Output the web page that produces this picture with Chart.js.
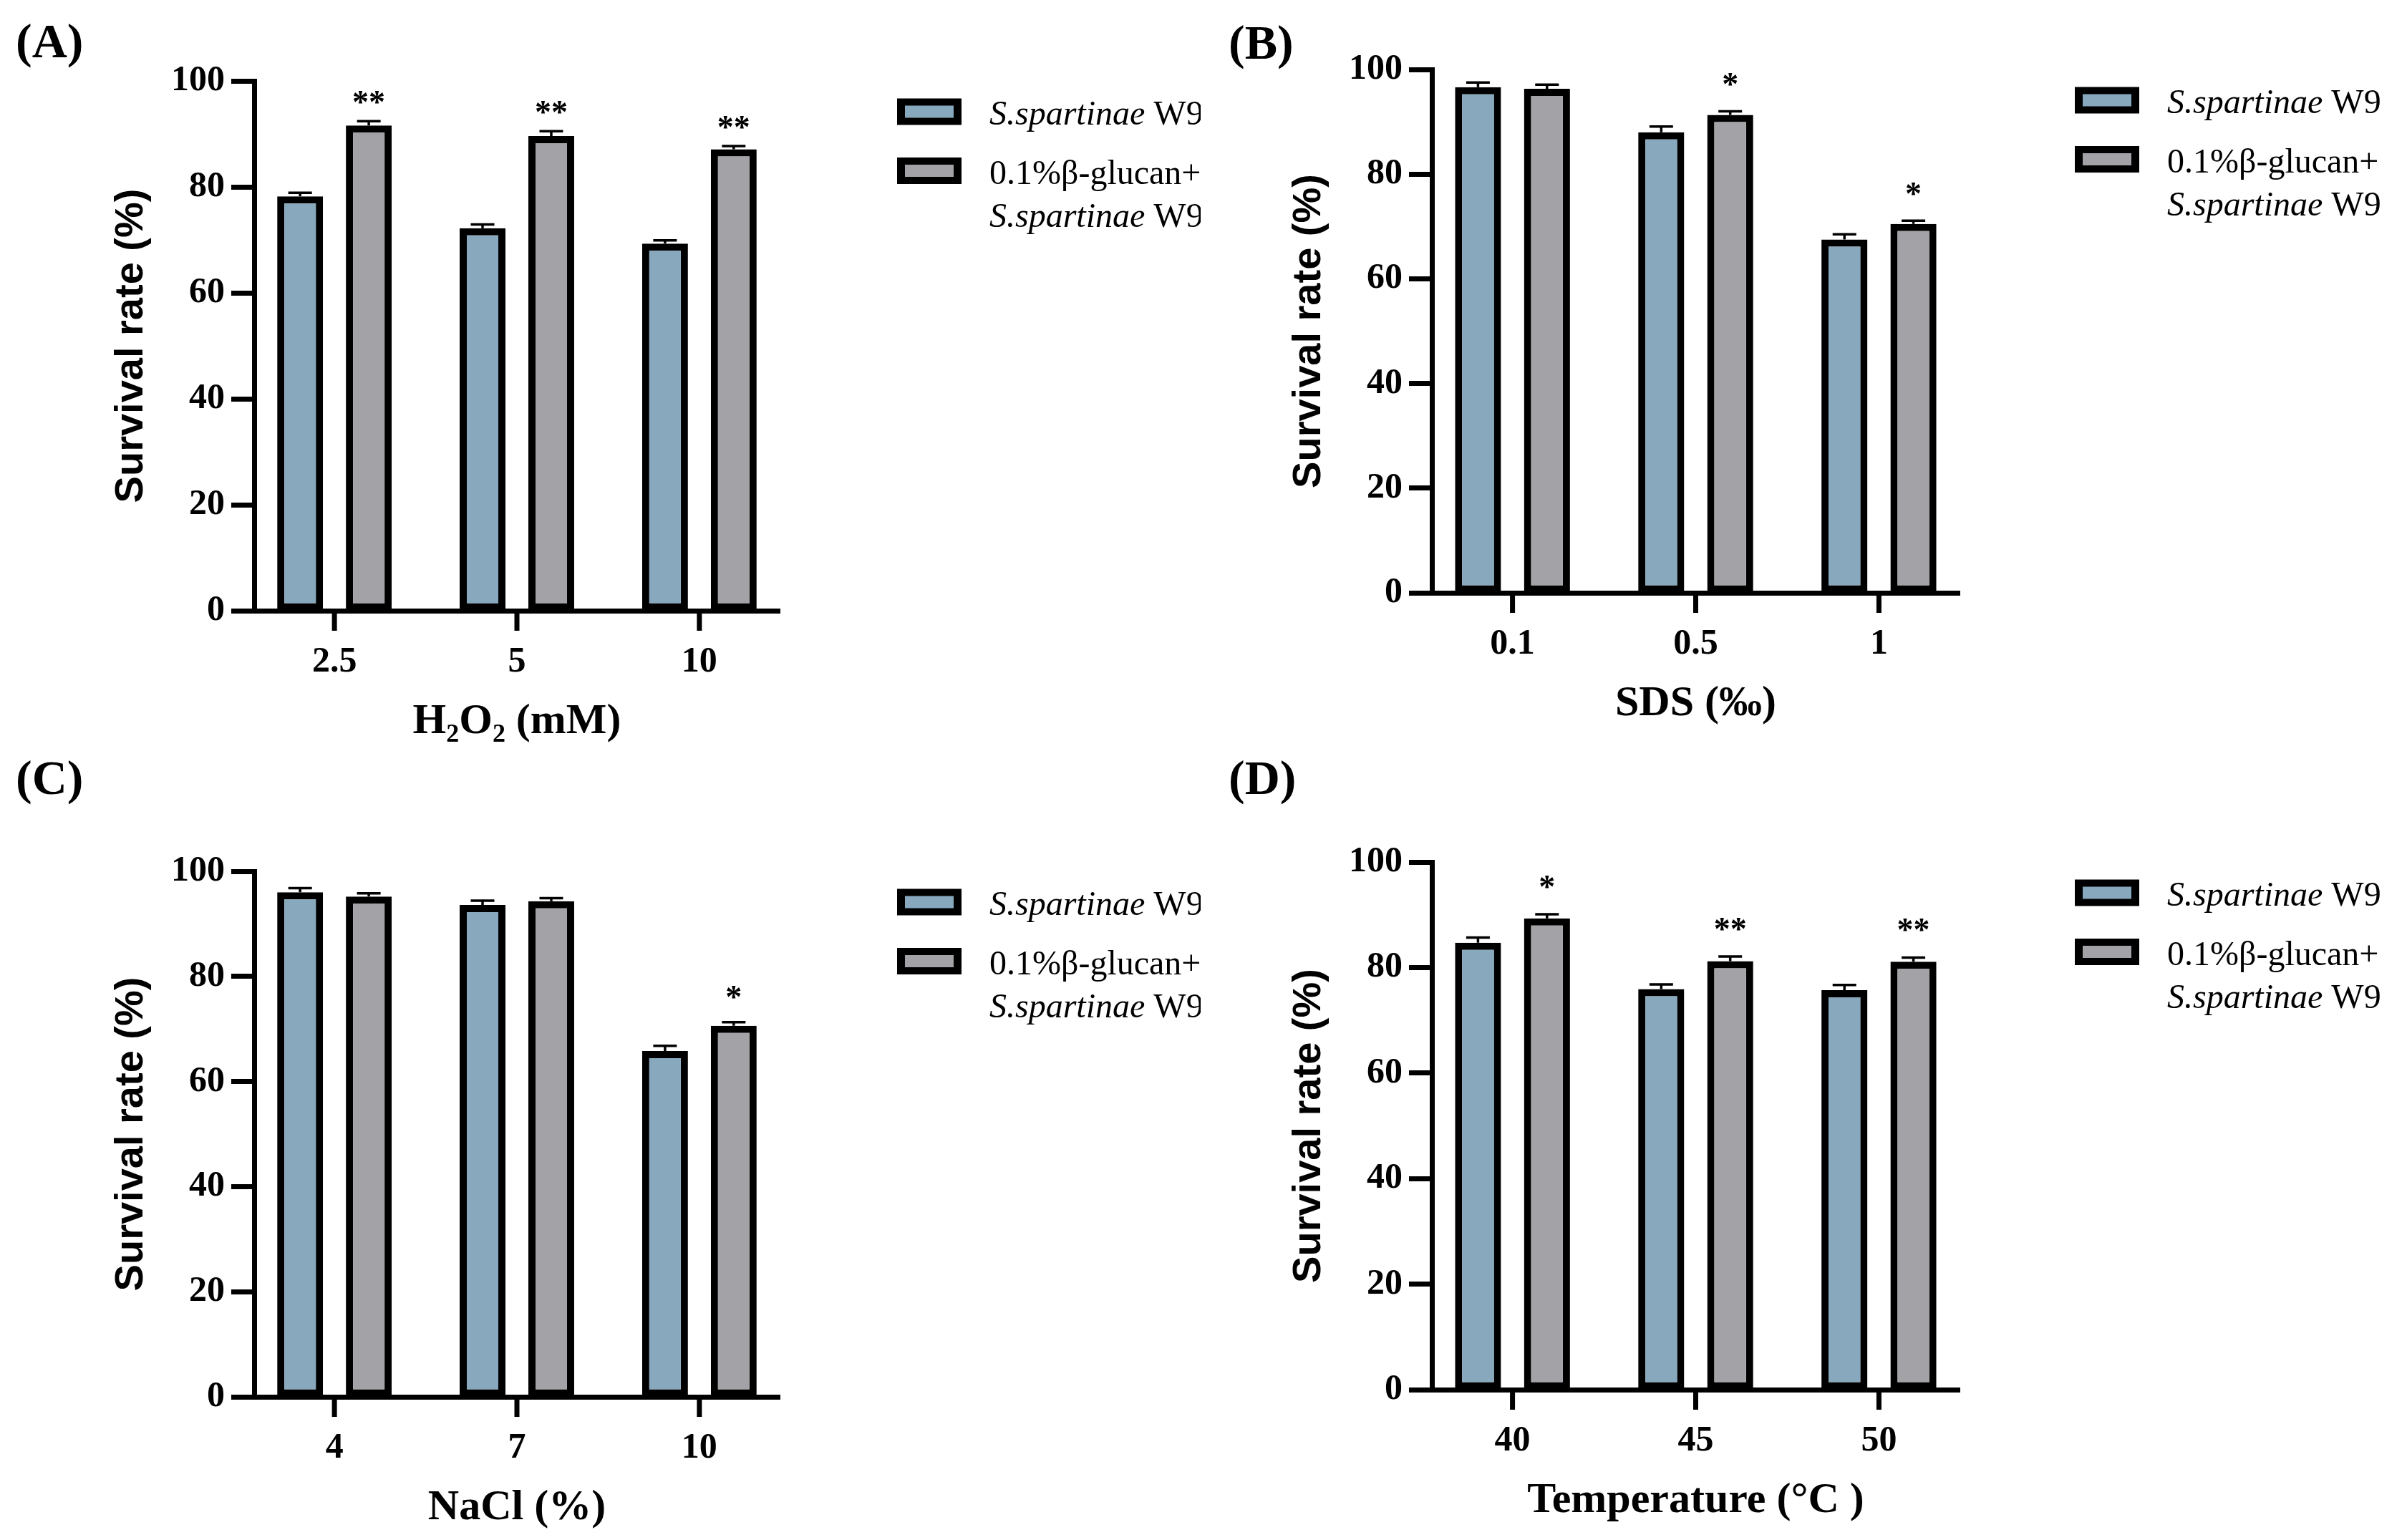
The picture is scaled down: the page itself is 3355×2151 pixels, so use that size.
<!DOCTYPE html>
<html>
<head>
<meta charset="utf-8">
<script src="https://cdn.jsdelivr.net/npm/chart.js@4.4.1/dist/chart.umd.min.js"></script>
<style>
  html, body { margin: 0; padding: 0; background: #fff; }
  body { width: 3355px; height: 2151px; position: relative; overflow: hidden; }
  canvas { position: absolute; }
</style>
</head>
<body>
<canvas id="chartA"></canvas>
<canvas id="chartB"></canvas>
<canvas id="chartC"></canvas>
<canvas id="chartD"></canvas>
<script>
// series names (S.spartinae is set in italics when drawn)
const seriesNames = ['S.spartinae W9', '0.1%β-glucan+\nS.spartinae W9'];

// (A) H2O2
const h2o2Labels = ['2.5', '5', '10'];
const h2o2Control = [78.2, 72.2, 69.3];
const h2o2Glucan = [91.6, 89.6, 87.1];
const h2o2ControlErr = [0.7, 0.7, 0.6];
const h2o2GlucanErr = [0.8, 0.9, 0.6];
const h2o2Stars = ['**', '**', '**'];

// (B) SDS
const sdsLabels = ['0.1', '0.5', '1'];
const sdsControl = [96.6, 88.0, 67.5];
const sdsGlucan = [96.3, 91.3, 70.5];
const sdsControlErr = [0.9, 1.1, 1.0];
const sdsGlucanErr = [0.8, 0.7, 0.6];
const sdsStars = ['', '*', '*'];

// (C) NaCl
const naclLabels = ['4', '7', '10'];
const naclControl = [96.0, 93.6, 65.8];
const naclGlucan = [95.2, 94.3, 70.6];
const naclControlErr = [0.8, 0.8, 1.0];
const naclGlucanErr = [0.6, 0.6, 0.7];
const naclStars = ['', '', '*'];

// (D) temperature
const tempLabels = ['40', '45', '50'];
const tempControl = [84.7, 75.9, 75.7];
const tempGlucan = [89.3, 81.2, 81.1];
const tempControlErr = [1.0, 0.9, 1.0];
const tempGlucanErr = [0.8, 0.9, 0.8];
const tempStars = ['*', '**', '**'];

const yTicks = [0, 20, 40, 60, 80, 100];

const BLUE = '#87a8bd';
const GRAY = '#a3a2a7';
const SERIF = '"Liberation Serif", "Times New Roman", serif';
const SANS = '"Liberation Sans", Arial, sans-serif';
const Y_W = 205;   // width of y scale box
const X_H = 191;   // height of x scale box
const X_TICK = 28; // x tick mark length

const panels = [
  { id: 'chartA', box: [0, 0, 1677, 1075], plot: [355, 113, 1089, 853], letter: '(A)', letterAt: [22, 62],
    xTitle: 'H₂O₂ (mM)', cats: h2o2Labels, ctrl: h2o2Control, glu: h2o2Glucan,
    ctrlErr: h2o2ControlErr, gluErr: h2o2GlucanErr, stars: h2o2Stars, starLift: 32 },
  { id: 'chartB', box: [1677, 0, 1678, 1075], plot: [2000, 97, 2737, 828], letter: '(B)', letterAt: [1716, 64],
    xTitle: 'SDS (‰)', cats: sdsLabels, ctrl: sdsControl, glu: sdsGlucan,
    ctrlErr: sdsControlErr, gluErr: sdsGlucanErr, stars: sdsStars, starLift: 43 },
  { id: 'chartC', box: [0, 1030, 1677, 1121], plot: [355, 1217, 1089, 1951], letter: '(C)', letterAt: [22, 1091],
    xTitle: 'NaCl (%)', cats: naclLabels, ctrl: naclControl, glu: naclGlucan,
    ctrlErr: naclControlErr, gluErr: naclGlucanErr, stars: naclStars, starLift: 41 },
  { id: 'chartD', box: [1677, 1030, 1678, 1121], plot: [2000, 1204, 2737, 1941], letter: '(D)', letterAt: [1716, 1091],
    xTitle: 'Temperature (°C )', cats: tempLabels, ctrl: tempControl, glu: tempGlucan,
    ctrlErr: tempControlErr, gluErr: tempGlucanErr, stars: tempStars, starLift: 44 }
];

// draws "S.spartinae" in italics, rest upright
function richText(ctx, text, x, y) {
  const parts = text.split(/(S\.spartinae)/).filter(s => s.length);
  parts.forEach(part => {
    ctx.font = (part === 'S.spartinae' ? 'italic ' : '') + '48px ' + SERIF;
    ctx.fillText(part, x, y);
    x += ctx.measureText(part).width;
  });
}

function makeExtras(p) {
  return {
    id: 'extras',
    afterDatasetsDraw(chart) {
      const ctx = chart.ctx;
      const y = chart.scales.y;
      ctx.save();
      ctx.strokeStyle = '#000';
      ctx.fillStyle = '#000';
      ctx.lineWidth = 3.5;
      [[p.ctrl, p.ctrlErr], [p.glu, p.gluErr]].forEach(([vals, errs], di) => {
        chart.getDatasetMeta(di).data.forEach((bar, i) => {
          const y0 = y.getPixelForValue(vals[i]);
          const y1 = y.getPixelForValue(vals[i] + errs[i]);
          ctx.beginPath();
          ctx.moveTo(bar.x, y0);
          ctx.lineTo(bar.x, y1);
          ctx.moveTo(bar.x - 16.5, y1);
          ctx.lineTo(bar.x + 16.5, y1);
          ctx.stroke();
          if (di === 1 && p.stars[i]) {
            ctx.font = 'bold 46px ' + SERIF;
            ctx.textAlign = 'center';
            ctx.textBaseline = 'alphabetic';
            ctx.fillText(p.stars[i], bar.x, y1 - p.starLift + 21);
          }
        });
      });
      ctx.restore();
    },
    afterDraw(chart) {
      const ctx = chart.ctx;
      const ox = p.box[0], oy = p.box[1];
      const xs = chart.scales.x;
      ctx.save();
      // x tick marks under each category label
      ctx.strokeStyle = '#000';
      ctx.lineWidth = 7;
      ctx.beginPath();
      xs.ticks.forEach(t => {
        const px = xs.getPixelForValue(t.value);
        ctx.moveTo(px, chart.chartArea.bottom);
        ctx.lineTo(px, chart.chartArea.bottom + X_TICK);
      });
      ctx.stroke();

      // panel letter
      ctx.fillStyle = '#000';
      ctx.font = 'bold 68px ' + SERIF;
      ctx.textAlign = 'left';
      ctx.textBaseline = 'middle';
      ctx.fillText(p.letter, p.letterAt[0] - ox, p.letterAt[1] - oy);

      // legend
      const bx = p.plot[0] + 898 - ox;
      const rows = [p.plot[1] + 43 - oy, p.plot[1] + 125.5 - oy];
      const colors = [BLUE, GRAY];
      ctx.textBaseline = 'alphabetic';
      rows.forEach((cy, k) => {
        ctx.fillStyle = '#000';
        ctx.fillRect(bx, cy - 18.5, 90, 37);
        ctx.fillStyle = colors[k];
        ctx.fillRect(bx + 11, cy - 8.5, 68, 17);
        ctx.fillStyle = '#000';
        seriesNames[k].split('\n').forEach((line, j) => {
          richText(ctx, line, bx + 129, cy + 18 + j * 60);
        });
      });
      ctx.restore();
    }
  };
}

panels.forEach(p => {
  const cv = document.getElementById(p.id);
  const [bx, by, bw, bh] = p.box;
  cv.width = bw; cv.height = bh;
  cv.style.left = bx + 'px'; cv.style.top = by + 'px';
  cv.style.width = bw + 'px'; cv.style.height = bh + 'px';

  const pad = {
    left: p.plot[0] - bx - Y_W,
    top: p.plot[1] - by,
    right: bx + bw - p.plot[2],
    bottom: by + bh - p.plot[3] - X_H
  };

  new Chart(cv, {
    type: 'bar',
    data: {
      datasets: [
        { label: seriesNames[0], data: p.ctrl.map((v, i) => ({ x: i, y: v })), backgroundColor: BLUE },
        { label: seriesNames[1], data: p.glu.map((v, i) => ({ x: i, y: v })), backgroundColor: GRAY }
      ]
    },
    options: {
      responsive: false,
      animation: false,
      devicePixelRatio: 1,
      layout: { padding: pad },
      datasets: {
        bar: {
          borderColor: '#000',
          borderWidth: 10,
          borderSkipped: false,
          categoryPercentage: 0.753,
          barPercentage: 0.667
        }
      },
      plugins: { legend: { display: false }, tooltip: { enabled: false } },
      scales: {
        x: {
          type: 'linear',
          min: -0.44,
          max: 2.44,
          offset: false,
          afterBuildTicks: s => { s.ticks = p.cats.map((_, i) => ({ value: i })); },
          afterFit: s => { s.height = X_H; },
          grid: { display: false, drawOnChartArea: false, drawTicks: false, offset: false },
          border: { display: true, width: 7, color: '#000' },
          ticks: {
            callback: v => p.cats[v],
            autoSkip: false, maxRotation: 0, padding: X_TICK + 14, color: '#000',
            font: { family: SERIF, size: 50, weight: 'bold' }
          },
          title: {
            display: true, text: p.xTitle, color: '#000', padding: { top: 0, bottom: 0 },
            font: { family: SERIF, size: 60, weight: 'bold' }
          }
        },
        y: {
          min: 0,
          max: 100,
          afterBuildTicks: s => { s.ticks = yTicks.map(v => ({ value: v })); },
          afterFit: s => { s.width = Y_W; },
          grid: { drawOnChartArea: false, drawTicks: true, tickLength: 32, tickWidth: 7, tickColor: '#000', color: '#000' },
          border: { display: true, width: 7, color: '#000' },
          ticks: {
            padding: 9, color: '#000',
            font: { family: SERIF, size: 50, weight: 'bold' }
          },
          title: {
            display: true, text: 'Survival rate (%)', color: '#000', padding: { top: 0, bottom: 0 },
            font: { family: SANS, size: 56, weight: 'bold' }
          }
        }
      }
    },
    plugins: [makeExtras(p)]
  });
});
</script>
</body>
</html>
